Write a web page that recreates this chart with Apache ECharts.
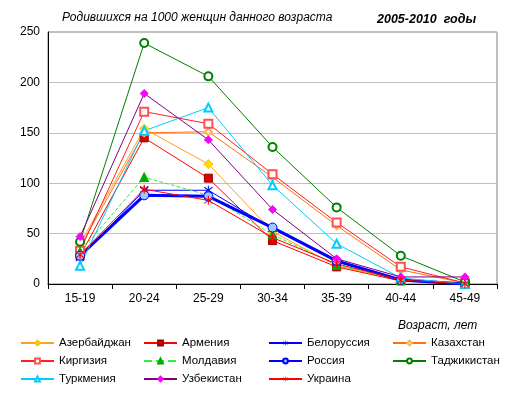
<!DOCTYPE html>
<html><head><meta charset="utf-8">
<script src="https://cdn.jsdelivr.net/npm/echarts@6/dist/echarts.min.js"></script>
<style>html,body{margin:0;padding:0;background:#fff}#c{width:514px;height:393px}</style>
</head><body><div id="c"></div>
<script>
var categories = ['15-19','20-24','25-29','30-34','35-39','40-44','45-49'];
var yTicks = [0, 50, 100, 150, 200, 250];
var azerbaijan = [40, 154, 119, 52, 18, 4, 0];
var armenia    = [28, 145, 105, 43, 17, 3, 0];
var belorussia = [26, 93, 93, 55, 22, 4, 0];
var kazakhstan = [37, 150, 151, 106, 58, 14, 1];
var kirgizia   = [33, 171, 159, 109, 61, 17, 1];
var moldavia   = [32, 106, 88, 49, 19, 4, 0];
var russia     = [28, 88, 87, 56, 23, 4, 0];
var tajikistan = [42, 239, 206, 136, 76, 28, 2];
var turkmenia  = [18, 152, 175, 98, 40, 6, 0];
var uzbekistan = [47, 189, 143, 74, 25, 7, 7];
var ukraine    = [29, 94, 83, 46, 20, 4, 0];

var star = 'path://M-0.9,-10 L0.9,-10 L0.9,10 L-0.9,10 Z M-6.3,-7.7 L7.7,6.3 L6.3,7.7 L-7.7,-6.3 Z M6.3,-7.7 L7.7,-6.3 L-6.3,7.7 L-7.7,6.3 Z';
var F = 'Arial, "Liberation Sans", sans-serif';

function S(name, data, color, symbol, opts) {
  opts = opts || {};
  return {
    name: name, type: 'line', data: data, symbol: symbol,
    symbolSize: opts.size || 7,
    lineStyle: {color: color, width: opts.width || 1, type: opts.dash ? 'dashed' : 'solid'},
    itemStyle: {color: opts.fill || color, borderColor: opts.border || color, borderWidth: opts.bw == null ? 1 : opts.bw},
    emphasis: {disabled: true},
    animation: false
  };
}

var series = [
  S('Азербайджан', azerbaijan, '#FFA020', 'diamond', {fill: '#FFE000', border: '#FFC000', size: 9}),
  S('Армения', armenia, '#FF0000', 'rect', {fill: '#DD0000', border: '#990000', size: 8}),
  S('Белоруссия', belorussia, '#0000FF', star, {size: 9, bw: 0}),
  S('Казахстан', kazakhstan, '#FF7010', 'emptyDiamond', {fill: '#FFB050', border: '#FFB050', size: 7}),
  S('Киргизия', kirgizia, '#FF2020', 'emptyRect', {fill: '#FF5050', border: '#FF5050', size: 8, bw: 1}),
  S('Молдавия', moldavia, '#33EE33', 'triangle', {fill: '#00AA00', border: '#00AA00', size: 9, dash: true}),
  S('Россия', russia, '#0000FF', 'circle', {fill: '#99CCFF', border: '#0000FF', size: 9, width: 3}),
  S('Таджикистан', tajikistan, '#008000', 'emptyCircle', {fill: '#008000', border: '#008000', size: 8, bw: 1}),
  S('Туркмения', turkmenia, '#00CCFF', 'emptyTriangle', {fill: '#00CCFF', border: '#00CCFF', size: 8, bw: 1}),
  S('Узбекистан', uzbekistan, '#800080', 'diamond', {fill: '#FF00FF', border: '#FF00FF', size: 8}),
  S('Украина', ukraine, '#FF0000', star, {size: 9, bw: 0})
];

var names = series.map(function(s){return s.name;});
var cols = [[0,4,8],[1,5,9],[2,6,10],[3,7]];
var colX = [20, 143, 268, 392];
var legends = cols.map(function(idx, i){
  return {
    orient: 'vertical', left: colX[i], top: 336, itemWidth: 33, itemHeight: 6, itemGap: 4,
    data: idx.map(function(k){return names[k];}),
    textStyle: {fontFamily: F, fontSize: 11.5, color: '#000', lineHeight: 14},
    selectedMode: false, padding: 0
  };
});

var chart = echarts.init(document.getElementById('c'), null, {renderer: 'canvas'});
chart.setOption({
  backgroundColor: '#fff',
  animation: false,
  title: [
    {text: 'Родившихся на 1000 женщин данного возраста', left: 57, top: 7,
     textStyle: {fontFamily: F, fontSize: 12, fontStyle: 'italic', fontWeight: 'normal', color: '#000'}},
    {text: '2005-2010  годы', left: 372, top: 8,
     textStyle: {fontFamily: F, fontSize: 12.5, fontStyle: 'italic', fontWeight: 'bold', color: '#000'}},
    {text: 'Возраст, лет', left: 393, top: 315,
     textStyle: {fontFamily: F, fontSize: 12, fontStyle: 'italic', fontWeight: 'normal', color: '#000'}}
  ],
  legend: legends,
  grid: {left: 48, right: 17, top: 32, bottom: 109, show: true, borderColor: '#808080', borderWidth: 1},
  xAxis: {
    type: 'category', data: categories, boundaryGap: true,
    axisLine: {lineStyle: {color: '#000', width: 1}},
    axisTick: {show: true, length: 5, lineStyle: {color: '#000'}},
    axisLabel: {fontFamily: F, fontSize: 12, color: '#000', margin: 9}
  },
  yAxis: {
    type: 'value', min: yTicks[0], max: yTicks[yTicks.length-1], interval: 50,
    axisLine: {show: true, lineStyle: {color: '#000', width: 1}},
    axisTick: {show: false},
    axisLabel: {fontFamily: F, fontSize: 12, color: '#000', margin: 8},
    splitLine: {lineStyle: {color: '#C0C0C0', width: 1}}
  },
  series: series
});
</script></body></html>
